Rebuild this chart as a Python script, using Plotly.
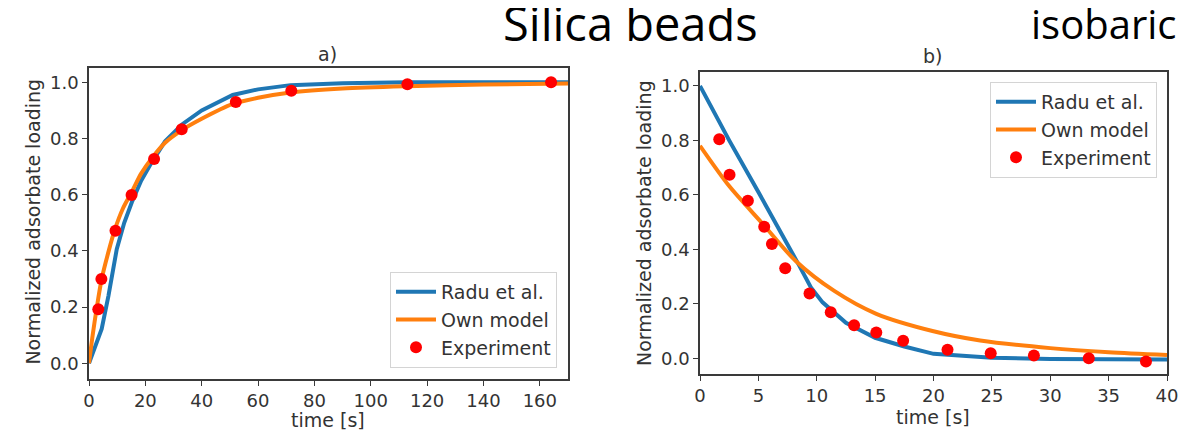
import plotly.graph_objects as go

# ---- Panel a) data ----
a_radu_t = [0, 4.5, 6.9, 9.85, 12.5, 15.2, 18.5, 22.3, 27, 33, 40, 51, 60, 71.5, 90, 113, 170]
a_radu_y = [0, 0.122, 0.24, 0.406, 0.50, 0.573, 0.65, 0.716, 0.79, 0.85, 0.90, 0.955, 0.975, 0.99, 0.997, 1.0, 1.0]
a_own_t = [0, 1.3, 2.7, 4.5, 7, 9.25, 12, 15.2, 18.5, 22.3, 27, 33, 40, 50.8, 60, 71.5, 90, 113, 140, 170]
a_own_y = [0, 0.10, 0.194, 0.30, 0.40, 0.478, 0.55, 0.61, 0.675, 0.73, 0.785, 0.83, 0.87, 0.922, 0.945, 0.964, 0.978, 0.986, 0.992, 0.996]
a_exp_t = [3.3, 4.4, 9.4, 15.1, 23.1, 32.9, 52.1, 71.8, 113, 164]
a_exp_y = [0.192, 0.30, 0.472, 0.599, 0.727, 0.833, 0.93, 0.97, 0.993, 1.0]

# ---- Panel b) data ----
b_radu_t = [0, 2.5, 5, 7.5, 8.5, 9.5, 10.5, 12.5, 15, 17.5, 20, 25, 30, 40]
b_radu_y = [1.0, 0.80, 0.61, 0.42, 0.34, 0.26, 0.205, 0.13, 0.075, 0.043, 0.016, 0.002, -0.003, -0.005]
b_own_t = [0, 2.5, 5.4, 8.2, 11.5, 15.1, 20, 24, 30, 35, 40]
b_own_y = [0.78, 0.632, 0.492, 0.357, 0.247, 0.163, 0.099, 0.065, 0.037, 0.022, 0.012]
b_exp_t = [1.65, 2.53, 4.1, 5.5, 6.16, 7.3, 9.38, 11.2, 13.2, 15.1, 17.4, 21.2, 24.9, 28.6, 33.3, 38.2]
b_exp_y = [0.804, 0.674, 0.578, 0.483, 0.419, 0.33, 0.238, 0.169, 0.121, 0.094, 0.064, 0.031, 0.018, 0.010, 0.0, -0.012]

BLUE = "#1f77b4"
ORANGE = "#ff7f0e"
RED = "#ff0000"
FONT = "DejaVu Sans"
TXT = "#333333"
W, H = 1204, 434
OFF = 8  # default page body margin offsets the figure by 8px

fig = go.Figure()

def add_panel(xa, ya, legend, rt, ry, ot, oy, et, ey):
    fig.add_trace(go.Scatter(x=rt, y=ry, mode="lines", name="Radu et al.",
                             line=dict(color=BLUE, width=4), xaxis=xa, yaxis=ya, legend=legend))
    fig.add_trace(go.Scatter(x=ot, y=oy, mode="lines", name="Own model",
                             line=dict(color=ORANGE, width=4, shape="spline", smoothing=0.8),
                             xaxis=xa, yaxis=ya, legend=legend))
    fig.add_trace(go.Scatter(x=et, y=ey, mode="markers", name="Experiment",
                             marker=dict(color=RED, size=12), xaxis=xa, yaxis=ya, legend=legend))

add_panel("x", "y", "legend", a_radu_t, a_radu_y, a_own_t, a_own_y, a_exp_t, a_exp_y)
add_panel("x2", "y2", "legend2", b_radu_t, b_radu_y, b_own_t, b_own_y, b_exp_t, b_exp_y)

axis_common = dict(showgrid=False, zeroline=False, showline=True, linecolor="#3a3a3a",
                   linewidth=1.5, mirror=True, ticks="outside", ticklen=5, tickcolor="#3a3a3a",
                   automargin=False,
                   tickfont=dict(family=FONT, size=18, color=TXT))

def px_x(p):
    return (p - OFF) / W

def px_y(p):
    return 1 - (p - OFF) / H

legend_common = dict(bgcolor="rgba(255,255,255,0.9)", bordercolor="#d4d4d4", borderwidth=1,
                     font=dict(family=FONT, size=19, color=TXT), itemwidth=40,
                     tracegroupgap=0)

def txt(text, x, y, size, family=FONT, color=TXT, angle=0):
    return dict(text=text, x=px_x(x), y=px_y(y), xref="paper", yref="paper",
                showarrow=False, xanchor="center", yanchor="middle", textangle=angle,
                font=dict(family=family, size=size, color=color))

fig.update_layout(
    width=W, height=H,
    margin=dict(l=0, r=0, t=0, b=0, autoexpand=False),
    paper_bgcolor="white", plot_bgcolor="white",
    showlegend=True,
    xaxis=dict(domain=[px_x(89), px_x(568)], range=[0, 170], tickvals=list(range(0, 161, 20)),
               anchor="y", **axis_common),
    yaxis=dict(domain=[px_y(379), px_y(68)], range=[-0.056, 1.051],
               tickvals=[0, 0.2, 0.4, 0.6, 0.8, 1.0], tickformat=".1f",
               anchor="x", **axis_common),
    xaxis2=dict(domain=[px_x(700), px_x(1167)], range=[0, 40], tickvals=list(range(0, 41, 5)),
                anchor="y2", **axis_common),
    yaxis2=dict(domain=[px_y(374), px_y(72)], range=[-0.058, 1.051],
                tickvals=[0, 0.2, 0.4, 0.6, 0.8, 1.0], tickformat=".1f",
                anchor="x2", **axis_common),
    legend=dict(x=px_x(557), y=px_y(368), xanchor="right", yanchor="bottom", **legend_common),
    legend2=dict(x=px_x(1157), y=px_y(82), xanchor="right", yanchor="top", **legend_common),
    annotations=[
        txt("Silica beads", 630, 23, 47, family="Open Sans", color="black"),
        txt("isobaric", 1104, 23, 40, family="Open Sans", color="black"),
        txt("a)", 327.6, 54, 19),
        txt("b)", 932.7, 56, 19),
        txt("time [s]", 327.6, 420, 19),
        txt("time [s]", 932.7, 417, 19),
        txt("Normalized adsorbate loading", 32.6, 222, 19, angle=-90),
        txt("Normalized adsorbate loading", 644, 223, 19, angle=-90),
    ],
)

fig.write_html("out.html")
